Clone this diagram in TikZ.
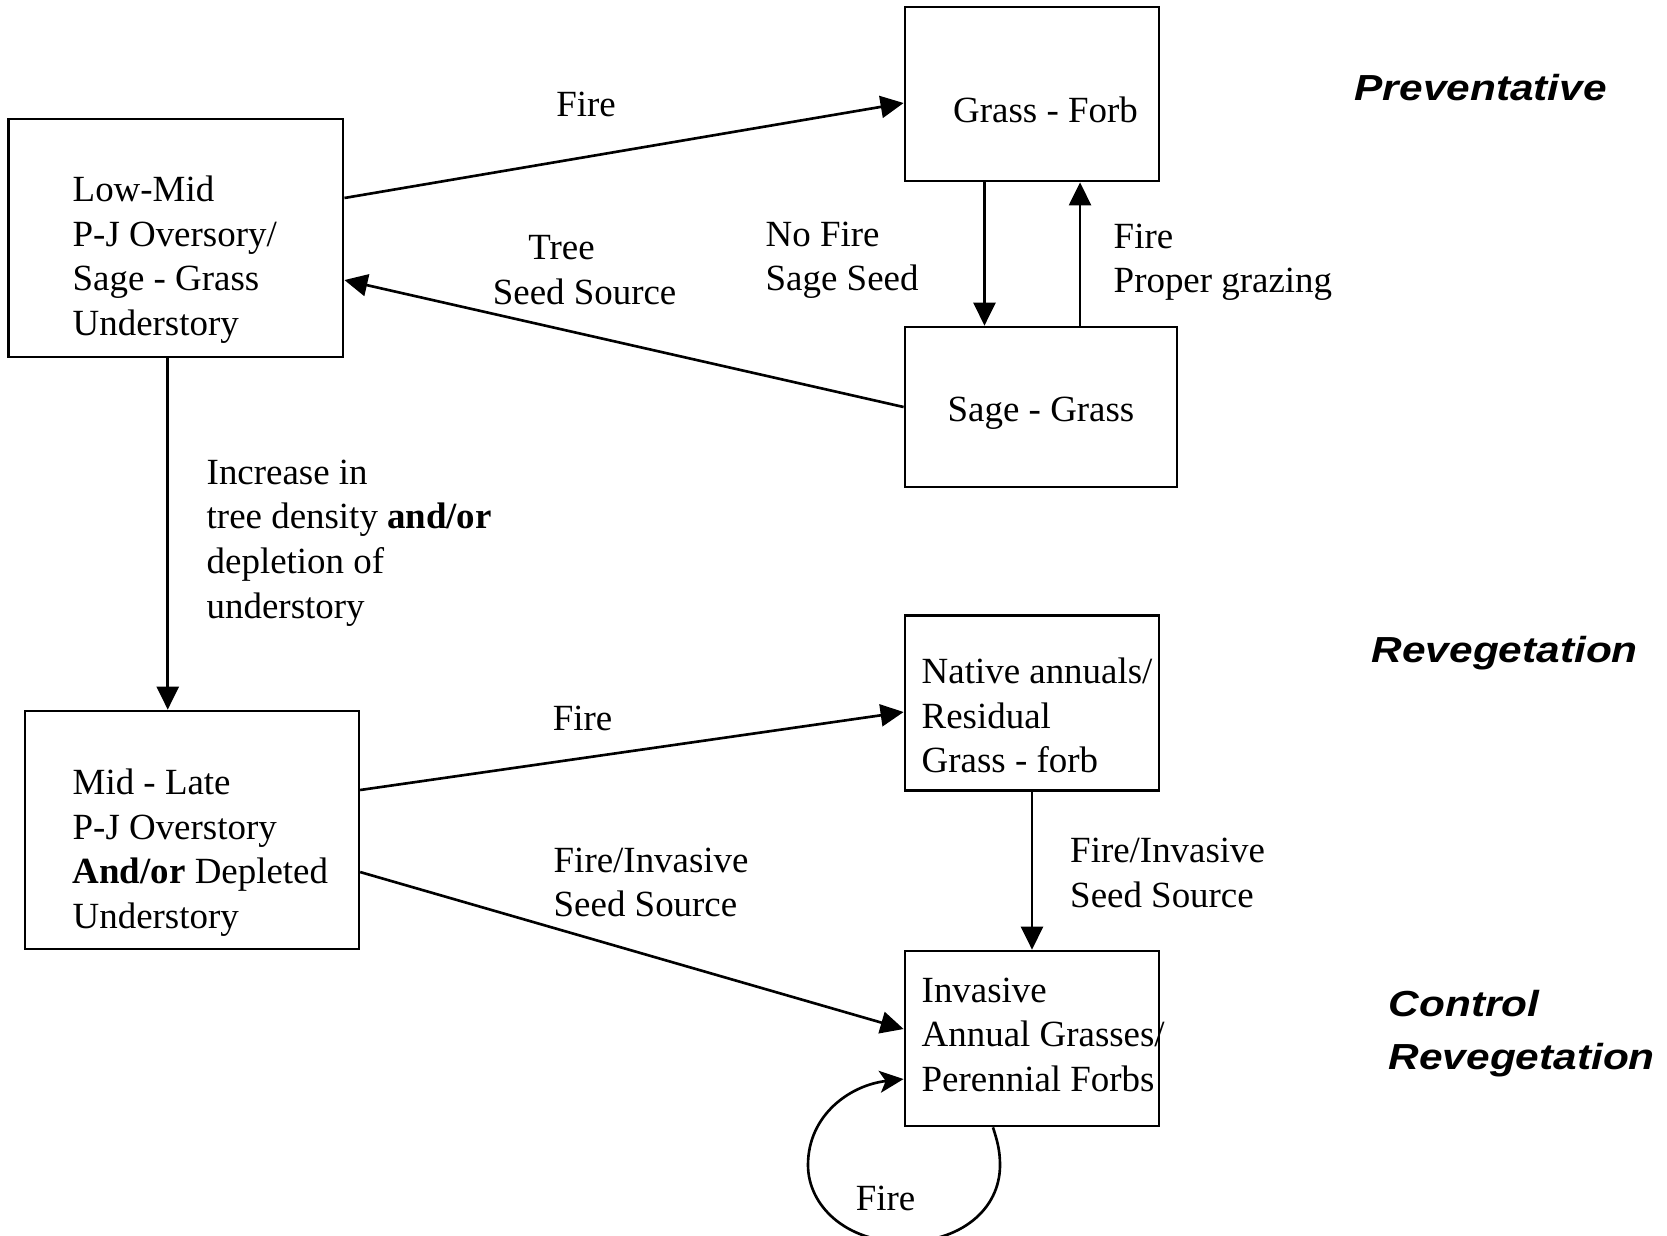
\documentclass[tikz,border=0pt]{standalone}
\usepackage{fontspec}
\setmainfont{Liberation Serif}
\newfontfamily\headfont[FakeStretch=1.17]{Liberation Sans}
\usetikzlibrary{arrows.meta,calc}

\begin{document}
\begin{tikzpicture}[x=0.01cm,y=-0.01cm,
  font=\fontsize{10.5}{12.7}\selectfont,
  arr/.style={-{Triangle[length=2.3mm,width=2.2mm]},line width=0.75pt},
  looparr/.style={-{Stealth[length=2.4mm,width=2.2mm,inset=0.6mm]},line width=0.75pt},
  box/.style={draw,line width=0.75pt,inner sep=0pt},
  lbl/.style={inner sep=0pt,align=left},
  head/.style={inner sep=0pt,align=left,
    font=\headfont\bfseries\itshape\fontsize{10.3}{14.8}\selectfont}]
\useasboundingbox (0,0) rectangle (1667,1235);
% state boxes
\node[box,minimum width=3.345cm,minimum height=2.38cm] (lowmid)   at (175.75,238) {};
\node[box,minimum width=2.54cm, minimum height=1.74cm] (grass)    at (1032,94)    {};
\node[box,minimum width=2.72cm, minimum height=1.60cm] (sage)     at (1041,407)   {};
\node[box,minimum width=3.335cm,minimum height=2.38cm] (midlate)  at (192,830)    {};
\node[box,minimum width=2.54cm, minimum height=1.75cm] (native)   at (1032,703)   {};
\node[box,minimum width=2.54cm, minimum height=1.75cm] (invasive) at (1032,1038.5) {};
% box texts
\node[lbl,anchor=north west] (lowmidtxt) at (72,175)    {Low-Mid\\P-J Oversory/\\Sage - Grass\\Understory};
\node[lbl,anchor=north west] (grasstxt)  at (952.5,96.5) {Grass - Forb};
\node[lbl,anchor=north west] (sagetxt)   at (947,396)   {Sage - Grass};
\node[lbl,anchor=north west] (midtxt)    at (72,768)    {Mid - Late\\P-J Overstory\\\textbf{And/or} Depleted\\Understory};
\node[lbl,anchor=north west] (nativetxt) at (921,657)   {Native annuals/\\Residual\\Grass - forb};
\node[lbl,anchor=north west] (invtxt)    at (921,977)   {Invasive\\Annual Grasses/\\Perennial Forbs};
% helper points
\coordinate (gsL) at ([xshift=-0.475cm]grass.south);
\coordinate (gsR) at ([xshift=0.48cm]grass.south);
\coordinate (lmS) at ([xshift=-0.08cm]lowmid.south);
\coordinate (loopstart) at ([xshift=-0.39cm]invasive.south);
\coordinate (loopend)   at ([yshift=-0.405cm]invasive.west);
% transitions
\draw[arr] ([yshift=0.4cm]lowmid.east) -- ([yshift=-0.09cm]grass.west);
\draw[arr] (sage.west) -- ([yshift=-0.42cm]lowmid.east);
\draw[arr] (gsL) -- (gsL |- sage.north);
\draw[arr] (gsR |- sage.north) -- (gsR);
\draw[arr] (lmS) -- (lmS |- midlate.north);
\draw[arr] ([yshift=0.4cm]midlate.east) -- ([yshift=-0.09cm]native.west);
\draw[arr] ([yshift=-0.42cm]midlate.east) -- ([yshift=0.095cm]invasive.west);
\draw[arr] (native.south) -- (invasive.north);
% self loop
\draw[looparr] (loopstart) .. controls (997,1140) and (1000,1150) .. (1000,1165)
  .. controls (1000,1210) and (960,1242) .. (904,1242)
  .. controls (845,1242) and (808,1205) .. (808,1165)
  .. controls (808,1115) and (850,1085) .. (loopend);
% transition labels
\node[lbl,anchor=north] (firetop) at (586,91) {Fire};
\node[lbl,anchor=north,align=center] (treeseed) at (584.6,235) {Tree\hspace*{1.25em}\\Seed Source};
\node[lbl,anchor=north west] (nofire) at (765,221) {No Fire\\Sage Seed};
\node[lbl,anchor=north west] (fireup) at (1113,223) {Fire\\Proper grazing};
\node[lbl,anchor=north west] (increase) at (206,459) {Increase in\\tree density \textbf{and/or}\\depletion of\\understory};
\node[lbl,anchor=north] (firemid) at (582.6,705) {Fire};
\node[lbl,anchor=north west] (invleft) at (553,847) {Fire/Invasive\\Seed Source};
\node[lbl,anchor=north west] (invright) at (1069.5,837.5) {Fire/Invasive\\Seed Source};
\node[lbl,anchor=north] (fireloop) at (885.6,1185) {Fire};
% treatment headings
\node[head,anchor=west] (prevent) at (1354,87.5) {Preventative};
\node[head,anchor=base west] (reveg) at (1371,662.5) {Revegetation};
\node[head,anchor=north west] (control) at (1388,990) {Control\\Revegetation};
\end{tikzpicture}
\end{document}
